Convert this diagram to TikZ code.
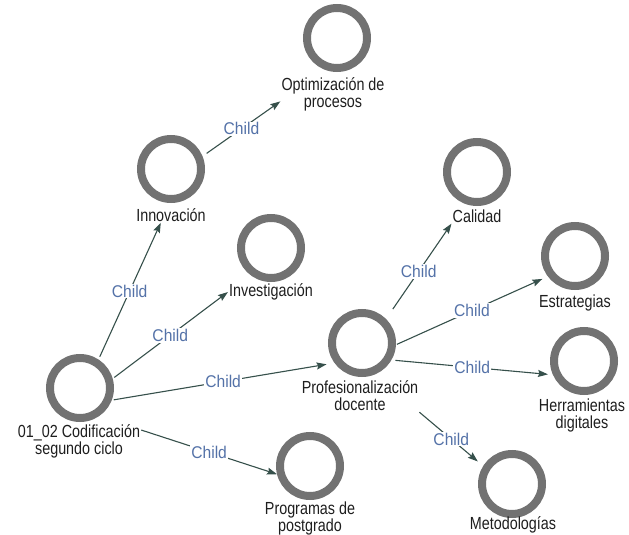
\documentclass[tikz,border=0pt]{standalone}
\usepackage{fontspec}
\setmainfont{Liberation Sans}
\newfontfamily\labfont{Liberation Sans}[FakeStretch=0.82]
\newfontfamily\chfont{Liberation Sans}[FakeStretch=0.92]
\usetikzlibrary{arrows.meta}
\definecolor{ring}{HTML}{727272}
\definecolor{edgec}{HTML}{36504B}
\definecolor{childc}{HTML}{5472A8}
\definecolor{txt}{HTML}{1E1E1E}
\begin{document}
\begin{tikzpicture}[x=1pt,y=-1pt,
 ringnode/.style={circle,draw=ring,line width=8pt,minimum size=60pt,inner sep=0pt},
 lbl/.style={text=txt,font=\labfont\fontsize{17.5}{17}\selectfont,align=center,inner sep=1pt},
 rel/.style={draw=edgec,line width=1.1pt,-{Stealth[length=10pt,width=7pt,inset=1.5pt]}},
 chl/.style={fill=white,text=childc,font=\chfont\fontsize{17}{17}\selectfont,inner sep=1pt}]
\useasboundingbox (0,0) rectangle (629,535);

\node[ringnode] (cod) at (80,388) {};
\node[lbl] (codl) at (79,441) {01\_02 Codificación\\segundo ciclo};
\node[ringnode] (inn) at (171,169) {};
\node[lbl] (innl) at (171,215) {Innovación};
\node[ringnode] (opt) at (337,38) {};
\node[lbl] (optl) at (333,94) {Optimización de\\procesos};
\node[ringnode] (inv) at (271,248) {};
\node[lbl] (invl) at (271,292) {Investigación};
\node[ringnode] (prof) at (362,343) {};
\node[lbl] (profl) at (360,396) {Profesionalización\\docente};
\node[ringnode] (cal) at (477,172) {};
\node[lbl] (call) at (477,216) {Calidad};
\node[ringnode] (est) at (575,256) {};
\node[lbl] (estl) at (575,303) {Estrategias};
\node[ringnode] (her) at (584,361) {};
\node[lbl] (herl) at (582,415) {Herramientas\\digitales};
\node[ringnode] (met) at (512,484) {};
\node[lbl] (metl) at (513,525) {Metodologías};
\node[ringnode] (prog) at (310,466) {};
\node[lbl] (progl) at (310,518) {Programas de\\postgrado};

\draw[rel,shorten <=3pt] (cod.57) -- node[chl]{Child} (innl.-143);
\draw[rel,shorten <=2pt] (cod.16) -- node[chl]{Child} (invl.west);
\draw[rel,shorten <=2pt,shorten >=8pt] (cod.-21) -- node[chl]{Child} (prof.-144);
\draw[rel] (codl.10) -- node[chl]{Child} (prog.-166);
\draw[rel,shorten <=5pt] (inn.22) -- node[chl]{Child} (optl.-172);
\draw[rel,shorten <=12pt] (prof.45) -- node[chl]{Child} (call.south west);
\draw[rel,shorten <=1pt,shorten >=6pt] (prof.-3) -- node[chl]{Child} (est.-143);
\draw[rel,shorten <=4pt,shorten >=5pt] (prof.-30) -- node[chl]{Child} (her.-156);
\draw[rel,shorten >=7pt] (profl.south east) -- node[chl]{Child} (met.148);
\end{tikzpicture}
\end{document}
